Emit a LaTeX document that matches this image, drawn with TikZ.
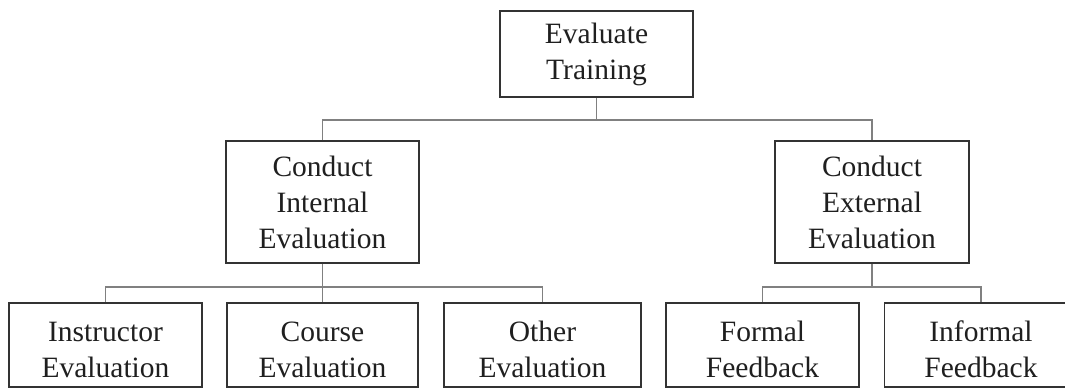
\documentclass[tikz,border=0pt]{standalone}
\usepackage{fontspec}
\setmainfont{Liberation Serif}
\begin{document}
\begin{tikzpicture}[x=1pt,y=-1pt,
  box/.style={draw=black!80,line width=1.6pt,fill=white,inner sep=0pt,align=center,
    text=black!88,font=\fontsize{29.5}{36}\selectfont},
  conn/.style={draw=black!50,line width=1.3pt}]
\useasboundingbox (0,0) rectangle (1065,389);
\clip (0,0) rectangle (1065,389);
\node[box,minimum width=193pt,minimum height=86pt] (top) at (596.5,54) {Evaluate\\Training};
\node[box,minimum width=193pt,minimum height=122pt] (int) at (322.5,202) {Conduct\\Internal\\Evaluation};
\node[box,minimum width=194pt,minimum height=122pt] (ext) at (872,202) {Conduct\\External\\Evaluation};
\node[box,minimum width=193pt,minimum height=84pt] (ins) at (105.5,345) {\rule{0pt}{30pt}Instructor\\Evaluation};
\node[box,minimum width=191pt,minimum height=84pt] (cou) at (322.5,345) {\rule{0pt}{30pt}Course\\Evaluation};
\node[box,minimum width=197pt,minimum height=84pt] (oth) at (542.5,345) {\rule{0pt}{30pt}Other\\Evaluation};
\node[box,minimum width=193pt,minimum height=84pt] (for) at (762.5,345) {\rule{0pt}{30pt}Formal\\Feedback};
\node[box,minimum width=193pt,minimum height=84pt] (inf) at (981,345) {\rule{0pt}{30pt}Informal\\Feedback};
\coordinate (b1) at (0,120);
\coordinate (b2) at (0,287);
\draw[conn] (top.south) -- (top.south |- b1);
\draw[conn] (int.north) |- (b1 -| ext.north) -- (ext.north);
\draw[conn] (int.south) -- (int.south |- b2);
\draw[conn] (ins.north) |- (b2 -| oth.north) -- (oth.north);
\draw[conn] (cou.north) -- (cou.north |- b2);
\draw[conn] (ext.south) -- (ext.south |- b2);
\draw[conn] (for.north) |- (b2 -| inf.north) -- (inf.north);
\end{tikzpicture}
\end{document}
